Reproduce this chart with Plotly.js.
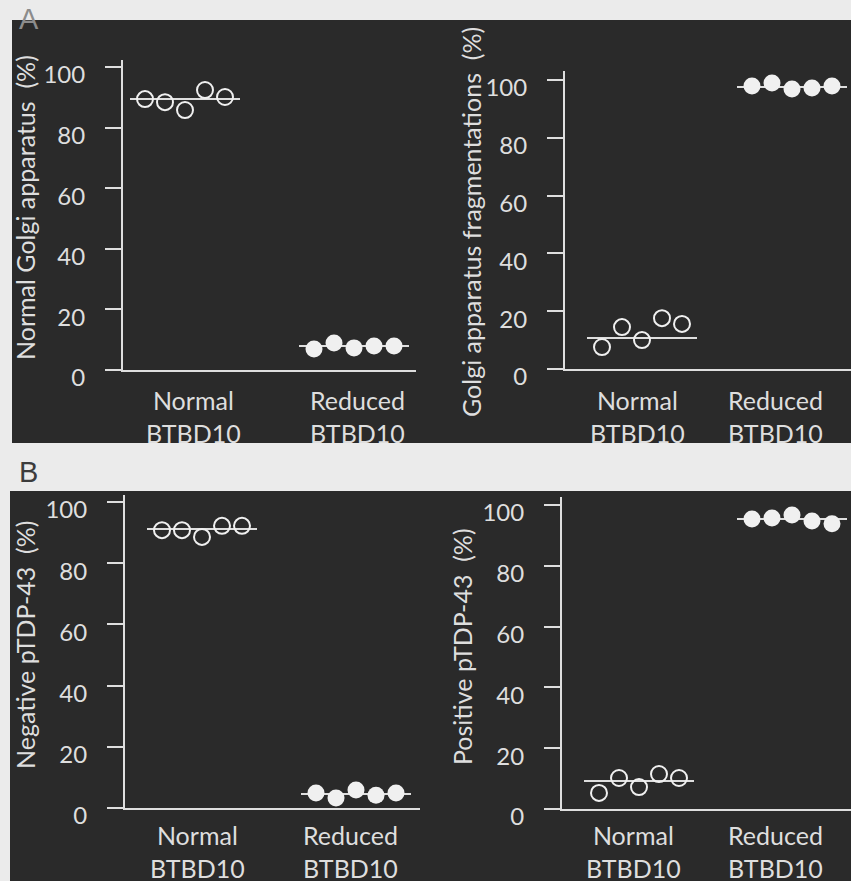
<!DOCTYPE html>
<html>
<head>
<meta charset="utf-8">
<script src="https://cdn.plot.ly/plotly-3.0.1.min.js"></script>
<style>html,body{margin:0;padding:0;background:#ebebeb;}#chart{width:851px;height:881px;}</style>
</head>
<body>
<div id="chart"></div>
<script>
// ---- data ----
const groups = ['Normal', 'Reduced'];
const catLine1 = ['Normal', 'Reduced'];
const catLine2 = ['BTBD10', 'BTBD10'];
const tickVals = [0, 20, 40, 60, 80, 100];
const tickText = ['0', '20', '40', '60', '80', '100'];

const golgiNormalTitle = 'Normal Golgi apparatus\u00a0 (%)';
const golgiNormal_normal = [89.4, 88.4, 85.8, 92.4, 90.1];
const golgiNormal_reduced = [6.9, 8.9, 7.3, 7.9, 7.9];
const golgiNormal_means = [89.4, 7.9];

const golgiFragTitle = 'Golgi apparatus fragmentations\u00a0 (%)';
const golgiFrag_normal = [7.6, 14.5, 10.0, 17.6, 15.6];
const golgiFrag_reduced = [97.9, 99.0, 96.9, 97.2, 97.9];
const golgiFrag_means = [10.7, 97.6];

const negTDPTitle = 'Negative pTDP-43\u00a0 (%)';
const negTDP_normal = [90.8, 90.8, 88.6, 92.2, 92.2];
const negTDP_reduced = [4.9, 3.3, 5.9, 4.2, 4.9];
const negTDP_means = [91.2, 4.6];

const posTDPTitle = 'Positive pTDP-43\u00a0 (%)';
const posTDP_normal = [5.3, 10.2, 7.2, 11.5, 10.2];
const posTDP_reduced = [95.4, 95.7, 96.7, 94.7, 93.8];
const posTDP_means = [9.2, 95.4];

// ---- layout geometry (pixels) ----
const W = 851, H = 881;
const FG = '#dedede';
const DOT = '#f0f0f0';
const FONT = 'Lato, "Open Sans", sans-serif';

const panels = [
  {id: '', title: golgiNormalTitle, normal: golgiNormal_normal, reduced: golgiNormal_reduced, means: golgiNormal_means,
   xPx: [123, 416], y0: 370, y100: 67, yTop: 60, grp: [185, 354], titleX: 25, titleY: 208, titleSize: 25, labX: [193, 357], labY: 416},
  {id: '2', title: golgiFragTitle, normal: golgiFrag_normal, reduced: golgiFrag_reduced, means: golgiFrag_means,
   xPx: [565, 851], y0: 369, y100: 80, yTop: 71, grp: [642, 792], titleX: 471, titleY: 222, titleSize: 25, labX: [637, 775], labY: 416},
  {id: '3', title: negTDPTitle, normal: negTDP_normal, reduced: negTDP_reduced, means: negTDP_means,
   xPx: [125, 420], y0: 808, y100: 502, yTop: 495, grp: [202, 356], titleX: 25, titleY: 645, titleSize: 25, labX: [197, 350], labY: 851},
  {id: '4', title: posTDPTitle, normal: posTDP_normal, reduced: posTDP_reduced, means: posTDP_means,
   xPx: [562, 851], y0: 809, y100: 505, yTop: 497, grp: [639, 792], titleX: 462, titleY: 647, titleSize: 25, labX: [633, 775], labY: 851}
];

const DOT_SPACING = 20;   // px between dots
const MEAN_HALF = 55;     // px half-width of mean line

const traces = [];
const layout = {
  width: W, height: H,
  margin: {l: 0, r: 0, t: 0, b: 0},
  paper_bgcolor: '#ebebeb',
  plot_bgcolor: 'rgba(0,0,0,0)',
  showlegend: false,
  font: {family: FONT, color: FG},
  shapes: [
    {type: 'rect', xref: 'paper', yref: 'paper', x0: 12 / W, x1: 1, y0: 1 - 443 / H, y1: 1 - 20 / H,
     fillcolor: '#2a2a2a', line: {width: 0}, layer: 'below'},
    {type: 'rect', xref: 'paper', yref: 'paper', x0: 10 / W, x1: 1, y0: 0, y1: 1 - 491 / H,
     fillcolor: '#2a2a2a', line: {width: 0}, layer: 'below'}
  ],
  annotations: [
    {text: 'A', xref: 'paper', yref: 'paper', x: 29 / W, y: 1 - 19 / H, showarrow: false,
     xanchor: 'center', yanchor: 'middle', font: {family: 'Liberation Sans, Arial, sans-serif', size: 29, color: '#8c8c8c'}},
    {text: 'B', xref: 'paper', yref: 'paper', x: 28 / W, y: 1 - 472 / H, showarrow: false,
     xanchor: 'center', yanchor: 'middle', font: {family: 'Liberation Sans, Arial, sans-serif', size: 29, color: '#3c3c3c'}}
  ]
};

panels.forEach(p => {
  const xa = 'x' + p.id, ya = 'y' + p.id;
  const ppuX = p.grp[1] - p.grp[0];
  const xRange = [(p.xPx[0] - p.grp[0]) / ppuX, 1 + (p.xPx[1] - p.grp[1]) / ppuX];
  const ppuY = (p.y0 - p.y100) / 100;
  const yRange = [0, (p.y0 - p.yTop) / ppuY];

  layout['xaxis' + p.id] = {
    domain: [p.xPx[0] / W, Math.min(1, p.xPx[1] / W)], range: xRange, anchor: ya,
    showline: true, linecolor: FG, linewidth: 2, showticklabels: false, ticks: '',
    showgrid: false, zeroline: false, fixedrange: true
  };
  layout['yaxis' + p.id] = {
    domain: [(H - p.y0) / H, (H - p.yTop) / H], range: yRange, anchor: xa,
    showline: true, linecolor: FG, linewidth: 2, ticks: 'outside', ticklen: 16, tickwidth: 2, tickcolor: FG,
    tickvals: tickVals, ticktext: tickText, tickfont: {family: FONT, size: 24, color: FG},
    ticklabelstandoff: 15, ticklabelshift: 8,
    showgrid: false, zeroline: false, fixedrange: true
  };

  const off = i => (i - 2) * DOT_SPACING / ppuX;
  const series = [p.normal, p.reduced];
  series.forEach((vals, g) => {
    // mean line
    traces.push({
      type: 'scatter', mode: 'lines', xaxis: xa, yaxis: ya, hoverinfo: 'skip',
      x: [g - MEAN_HALF / ppuX, g + MEAN_HALF / ppuX], y: [p.means[g], p.means[g]],
      line: {color: FG, width: 2}
    });
    // dots
    traces.push({
      type: 'scatter', mode: 'markers', xaxis: xa, yaxis: ya, name: groups[g],
      x: vals.map((v, i) => g + off(i)), y: vals,
      marker: g === 0
        ? {symbol: 'circle-open', size: 16, color: DOT, line: {width: 2, color: DOT}}
        : {symbol: 'circle', size: 17, color: DOT, line: {width: 0}}
    });
    // category label (two lines)
    layout.annotations.push({
      text: catLine1[g] + '<br>' + catLine2[g], xref: 'paper', yref: 'paper',
      x: p.labX[g] / W, y: 1 - p.labY / H,
      showarrow: false, xanchor: 'center', yanchor: 'middle', align: 'center', borderpad: 0,
      font: {family: FONT, size: 25, color: FG}
    });
  });
  // y title
  layout.annotations.push({
    text: p.title, xref: 'paper', yref: 'paper', x: p.titleX / W, y: 1 - p.titleY / H,
    showarrow: false, textangle: -90, xanchor: 'center', yanchor: 'middle',
    font: {family: FONT, size: p.titleSize, color: FG}
  });
});

Plotly.newPlot('chart', traces, layout, {staticPlot: true, displayModeBar: false});
</script>
</body>
</html>
